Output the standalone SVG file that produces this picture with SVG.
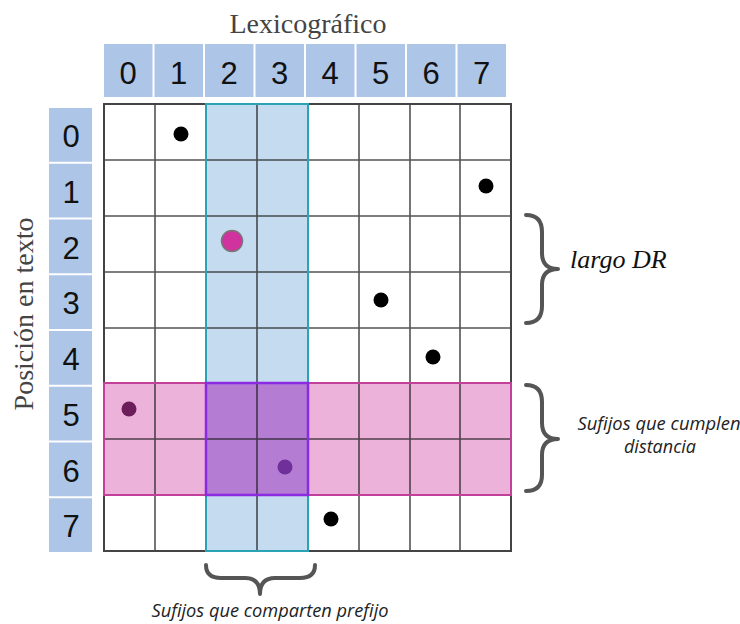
<svg xmlns="http://www.w3.org/2000/svg" width="740" height="624" viewBox="0 0 740 624">
<style>
.hdr{fill:#adc6e8}
.num{font-family:"Liberation Sans",Arial,sans-serif;font-size:31px;fill:#111;text-anchor:middle}
.title{font-family:"Liberation Serif","Times New Roman",serif;font-size:28px;fill:#444}
.gl{stroke:#1a1a1a;stroke-opacity:0.75;stroke-width:1.6;fill:none}
.brace{fill:none;stroke:#555;stroke-width:4;stroke-linecap:round;stroke-linejoin:round}
.lbl{font-family:"Open Sans","Noto Sans","Liberation Sans",sans-serif;font-style:italic;font-size:18px;fill:#222;text-anchor:middle}
.dot{fill:#000}
</style>
<rect width="740" height="624" fill="#fff"/>
<text class="title" x="308" y="33" text-anchor="middle">Lexicográfico</text>
<text class="title" transform="translate(33,314) rotate(-90)" text-anchor="middle">Posición en texto</text>
<g id="col-headers">
<rect class="hdr" x="104" y="44" width="48.5" height="53"/>
<rect class="hdr" x="154.5" y="44" width="48.5" height="53"/>
<rect class="hdr" x="205" y="44" width="48.5" height="53"/>
<rect class="hdr" x="255.5" y="44" width="48.5" height="53"/>
<rect class="hdr" x="306" y="44" width="48.5" height="53"/>
<rect class="hdr" x="356.5" y="44" width="48.5" height="53"/>
<rect class="hdr" x="407" y="44" width="48.5" height="53"/>
<rect class="hdr" x="457.5" y="44" width="48.5" height="53"/>
<text class="num" x="128" y="84">0</text>
<text class="num" x="178.5" y="84">1</text>
<text class="num" x="229" y="84">2</text>
<text class="num" x="279.5" y="84">3</text>
<text class="num" x="330" y="84">4</text>
<text class="num" x="380.5" y="84">5</text>
<text class="num" x="431" y="84">6</text>
<text class="num" x="481.5" y="84">7</text>
</g>
<g id="row-headers">
<rect class="hdr" x="49" y="108" width="43" height="53.75"/>
<rect class="hdr" x="49" y="163.75" width="43" height="53.75"/>
<rect class="hdr" x="49" y="219.5" width="43" height="53.75"/>
<rect class="hdr" x="49" y="275.25" width="43" height="53.75"/>
<rect class="hdr" x="49" y="331" width="43" height="53.75"/>
<rect class="hdr" x="49" y="386.75" width="43" height="53.75"/>
<rect class="hdr" x="49" y="442.5" width="43" height="53.75"/>
<rect class="hdr" x="49" y="498.25" width="43" height="53.75"/>
<text class="num" x="71" y="147">0</text>
<text class="num" x="71" y="202.75">1</text>
<text class="num" x="71" y="258.5">2</text>
<text class="num" x="71" y="314.25">3</text>
<text class="num" x="71" y="370">4</text>
<text class="num" x="71" y="425.75">5</text>
<text class="num" x="71" y="481.5">6</text>
<text class="num" x="71" y="537.25">7</text>
</g>
<g id="grid">
<rect x="104" y="104" width="407" height="447" fill="#fff"/>
<rect id="prefix-column" x="206" y="104" width="102" height="447" fill="#c5dbf0"/>
<rect id="distance-rows" x="104" y="383" width="407" height="112" fill="#ecb2da"/>
<rect id="overlap" x="206" y="383" width="102" height="112" fill="#b57cd4"/>
<path class="gl" d="M155,104V551M206,104V551M257,104V551M308,104V551M359,104V551M410,104V551M460,104V551M104,160H511M104,216H511M104,272H511M104,328H511M104,383H511M104,439H511M104,495H511"/>
<rect x="104" y="104" width="407" height="447" fill="none" stroke="#444" stroke-width="2"/>
<rect x="206" y="104" width="102" height="447" fill="none" stroke="#2aa3b5" stroke-width="2"/>
<rect x="104" y="383" width="407" height="112" fill="none" stroke="#c2409a" stroke-width="2"/>
<rect x="206" y="383" width="102" height="112" fill="none" stroke="#8a2be2" stroke-width="2.5"/>
</g>
<g id="points">
<circle class="dot" cx="181" cy="134" r="7.5"/>
<circle class="dot" cx="486" cy="186" r="7.5"/>
<circle cx="232" cy="241" r="10.5" fill="#d0329e" stroke="#777" stroke-width="1.5"/>
<circle class="dot" cx="381" cy="300" r="7.5"/>
<circle class="dot" cx="433" cy="357" r="7.5"/>
<circle cx="129" cy="409" r="7.5" fill="#6c1e5a"/>
<circle cx="285" cy="467" r="7.5" fill="#70309a"/>
<circle class="dot" cx="331" cy="519" r="7.5"/>
</g>
<g id="brace-dr">
<path class="brace" d="M526,215Q542,215 542,232L542,253Q542,269 558,269Q542,269 542,285L542,306Q542,323 526,323"/>
<text x="570" y="268" font-family="'Liberation Serif','Times New Roman',serif" font-style="italic" font-size="26" fill="#111">largo DR</text>
</g>
<g id="brace-distance">
<path class="brace" d="M526,385Q542,385 542,402L542,423Q542,439 558,439Q542,439 542,455L542,475Q542,491 526,491"/>
<text class="lbl" x="659" y="430" textLength="163" lengthAdjust="spacingAndGlyphs">Sufijos que cumplen</text>
<text class="lbl" x="660" y="453">distancia</text>
</g>
<g id="brace-prefix">
<path class="brace" d="M206,565Q206,578 221,578L245,578Q260,578 260,594Q260,578 275,578L300,578Q315,578 315,565"/>
<text class="lbl" x="270" y="617" textLength="237" lengthAdjust="spacingAndGlyphs">Sufijos que comparten prefijo</text>
</g>
</svg>
